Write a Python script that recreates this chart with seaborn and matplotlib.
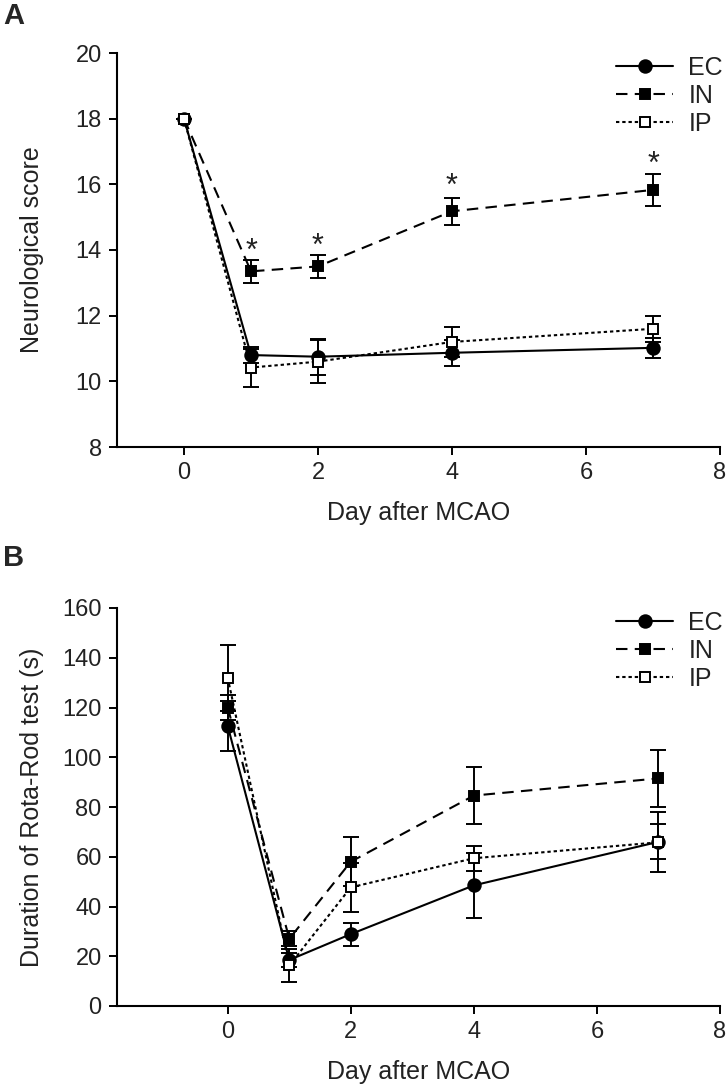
import numpy as np
import pandas as pd
import matplotlib
matplotlib.use("Agg")
import matplotlib.pyplot as plt
import seaborn as sns

sns.set_style("ticks")
plt.rcParams['font.family'] = ['Liberation Sans', 'DejaVu Sans']

# ---------------- data ----------------
days = [0, 1, 2, 4, 7]
groups = ["EC", "IN", "IP"]

# Panel A: Neurological score (mean, error)
a_ec = [18.0, 10.80, 10.75, 10.87, 11.02]
a_ec_err = [0.0, 0.25, 0.55, 0.40, 0.30]
a_in = [18.0, 13.35, 13.50, 15.18, 15.83]
a_in_err = [0.0, 0.34, 0.34, 0.41, 0.48]
a_ip = [18.0, 10.42, 10.60, 11.20, 11.60]
a_ip_err = [0.0, 0.58, 0.65, 0.47, 0.40]
a_star_days = [1, 2, 4, 7]
a_star_y = [13.50, 13.65, 15.45, 16.15]

# Panel B: Duration of Rota-Rod test (s)
b_ec = [112.5, 18.5, 28.9, 48.5, 66.0]
b_ec_err = [10.0, 3.0, 4.6, 13.0, 7.0]
b_in = [120.0, 27.0, 58.0, 84.6, 91.5]
b_in_err = [5.0, 3.0, 9.8, 11.3, 11.4]
b_ip = [131.9, 16.3, 47.7, 59.4, 65.8]
b_ip_err = [13.4, 6.5, 9.8, 5.0, 12.0]

a_yticks = [8, 10, 12, 14, 16, 18, 20]
b_yticks = [0, 20, 40, 60, 80, 100, 120, 140, 160]
xticks = [0, 2, 4, 6, 8]

styles = {
    "EC": dict(marker="o", linestyle="-", markerfacecolor="black", markersize=9),
    "IN": dict(marker="s", linestyle=(0, (5.5, 3.5)), markerfacecolor="black", markersize=7.5),
    "IP": dict(marker="s", linestyle=(0, (1.6, 1.4)), markerfacecolor="white", markersize=7.5),
}

FS_TICK = 17
FS_LAB = 18
TXT = "#222222"

fig = plt.figure(figsize=(7.28, 10.89), dpi=100)
axA = fig.add_axes([117/728, 1-447/1089, (720-117)/728, (447-53)/1089])
axB = fig.add_axes([117/728, 1-1006/1089, (720-117)/728, (1006-608)/1089])


def draw(ax, series, errs):
    for g in groups:
        df = pd.DataFrame({"day": days, "value": series[g]})
        ax.errorbar(days, series[g], yerr=errs[g], fmt="none", ecolor="black",
                    elinewidth=1.4, capsize=5.5, capthick=1.4, zorder=2)
        sns.lineplot(data=df, x="day", y="value", ax=ax, color="black",
                     linewidth=1.5, markeredgecolor="black", markeredgewidth=1.4,
                     label=g, zorder=3, **styles[g])


def style_axes(ax, ylim, yticks, xlim, ylabel):
    ax.set_xlim(*xlim)
    ax.set_ylim(*ylim)
    ax.set_yticks(yticks)
    ax.set_xticks(xticks)
    ax.tick_params(axis="both", direction="out", length=6, width=1.4,
                   labelsize=FS_TICK, pad=5, color="black", labelcolor=TXT)
    for s in ["top", "right"]:
        ax.spines[s].set_visible(False)
    for s in ["left", "bottom"]:
        ax.spines[s].set_linewidth(1.5)
        ax.spines[s].set_color("black")
    ax.set_xlabel("Day after MCAO", fontsize=FS_LAB, labelpad=12, color=TXT)
    ax.set_ylabel(ylabel, fontsize=FS_LAB, color=TXT)
    ax.yaxis.set_label_coords((44-117)/603, 0.5)
    leg = ax.legend(loc="upper right", bbox_to_anchor=(1.03, 1.03), frameon=False,
                    fontsize=FS_LAB, handlelength=2.3, handletextpad=0.6,
                    labelspacing=0.15, borderaxespad=0.2)
    for t in leg.get_texts():
        t.set_color(TXT)


draw(axA, {"EC": a_ec, "IN": a_in, "IP": a_ip},
     {"EC": a_ec_err, "IN": a_in_err, "IP": a_ip_err})
for d, y in zip(a_star_days, a_star_y):
    axA.text(d, y, "*", ha="center", va="bottom", fontsize=22, color=TXT)
style_axes(axA, (8, 20), a_yticks, (-1, 8), "Neurological score")

draw(axB, {"EC": b_ec, "IN": b_in, "IP": b_ip},
     {"EC": b_ec_err, "IN": b_in_err, "IP": b_ip_err})
style_axes(axB, (0, 160), b_yticks, (-1.8, 8), "Duration of Rota-Rod test (s)")

fig.text(3/728, 1-16/1089, "A", fontsize=21, fontweight="bold", va="center", ha="left")
fig.text(3/728, 1-558/1089, "B", fontsize=21, fontweight="bold", va="center", ha="left")

fig.savefig("out.png", dpi=100)
